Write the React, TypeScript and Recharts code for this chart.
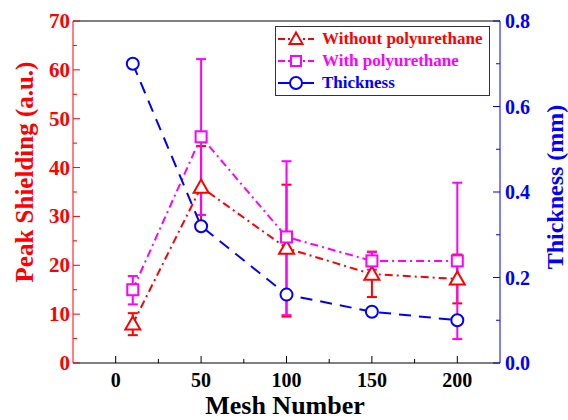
import { ErrorBar, Line, LineChart, ReferenceLine, XAxis, YAxis } from 'recharts';

const meshNumbers = [10, 50, 100, 150, 200];
const withoutPU = [8, 36, 23.5, 18.2, 17.2];
const withoutPUErr: [number, number][] = [[2.3, 2.2], [8, 8.4], [14, 13], [4.7, 4.6], [5, 5]];
const withPU = [15, 46.3, 25.8, 20.9, 20.9];
const withPUErr: [number, number][] = [[3, 2.8], [16, 15.9], [16, 15.5], [1.8, 1.8], [16, 16]];
const thickness = [0.7, 0.32, 0.16, 0.12, 0.1];

const xTicks = [0, 25, 50, 75, 100, 125, 150, 175, 200];
const leftTicks = [0, 5, 10, 15, 20, 25, 30, 35, 40, 45, 50, 55, 60, 65, 70];
const rightTicks = [0, 0.1, 0.2, 0.3, 0.4, 0.5, 0.6, 0.7, 0.8];

const data = meshNumbers.map((m, i) => ({
  mesh: m,
  without: withoutPU[i],
  withoutErr: withoutPUErr[i],
  with: withPU[i],
  withErr: withPUErr[i],
  thick: thickness[i],
}));

const FONT = '"Liberation Serif", "Times New Roman", serif';
const RED = '#ff0000';
const MAGENTA = '#ff00ff';
const BLUE = '#0000ff';

const Triangle = (props: any) => {
  const { cx, cy, stroke = RED, s = 7.5 } = props;
  if (cx == null || cy == null) return null;
  return (
    <polygon
      points={`${cx},${cy - s} ${cx - s},${cy + s * 0.75} ${cx + s},${cy + s * 0.75}`}
      fill="#fff"
      stroke={stroke}
      strokeWidth={2}
    />
  );
};

const Square = (props: any) => {
  const { cx, cy, s = 5.5 } = props;
  if (cx == null || cy == null) return null;
  return <rect x={cx - s} y={cy - s} width={s * 2} height={s * 2} fill="#fff" stroke={MAGENTA} strokeWidth={2} />;
};

const Circle = (props: any) => {
  const { cx, cy } = props;
  if (cx == null || cy == null) return null;
  return <circle cx={cx} cy={cy} r={6} fill="#fff" stroke={BLUE} strokeWidth={2} />;
};

const XTick = (props: any) => {
  const { x, y, payload } = props;
  const major = payload.value % 50 === 0;
  return (
    <g>
      <line x1={x} x2={x} y1={y} y2={y - (major ? 7 : 4)} stroke="#000" strokeWidth={1} />
      {major && (
        <text x={x} y={y + 24} textAnchor="middle" fontFamily={FONT} fontWeight="bold" fontSize={20} fill="#000">
          {payload.value}
        </text>
      )}
    </g>
  );
};

const LeftTick = (props: any) => {
  const { x, y, payload } = props;
  const major = payload.value % 10 === 0;
  return (
    <g>
      <line x1={x} x2={x + (major ? 7 : 4)} y1={y} y2={y} stroke={RED} strokeWidth={1} />
      {major && (
        <text x={x - 3} y={y + 7} textAnchor="end" fontFamily={FONT} fontWeight="bold" fontSize={21} fill={RED}>
          {payload.value}
        </text>
      )}
    </g>
  );
};

const RightTick = (props: any) => {
  const { x, y, payload } = props;
  const major = Math.round(payload.value * 10) % 2 === 0;
  return (
    <g>
      <line x1={x} x2={x - (major ? 7 : 4)} y1={y} y2={y} stroke={BLUE} strokeWidth={1} />
      {major && (
        <text x={x + 5} y={y + 7} textAnchor="start" fontFamily={FONT} fontWeight="bold" fontSize={20} fill={BLUE}>
          {payload.value.toFixed(1)}
        </text>
      )}
    </g>
  );
};

const legendItems = [
  { name: 'Without polyurethane', color: RED, dash: '7 3 2 3', marker: 'tri' },
  { name: 'With polyurethane', color: MAGENTA, dash: '7 3 2 3', marker: 'sq' },
  { name: 'Thickness', color: BLUE, dash: '', marker: 'circ' },
];

const LegendBox = () => (
  <div
    style={{
      position: 'absolute',
      left: 275,
      top: 26,
      width: 215,
      border: '1px solid #333',
      background: '#fff',
      padding: '1px 0 1px 0',
      fontFamily: FONT,
      fontWeight: 'bold',
      fontSize: 17,
      lineHeight: '22px',
      boxSizing: 'border-box',
    }}
  >
    {legendItems.map((it) => (
      <div key={it.name} style={{ display: 'flex', alignItems: 'center', color: it.color, whiteSpace: 'nowrap' }}>
        <svg width={40} height={22} style={{ marginRight: 6 }}>
          <line x1={2} x2={38} y1={11} y2={11} stroke={it.color} strokeWidth={2} strokeDasharray={it.dash} />
          {it.marker === 'tri' && <Triangle cx={20} cy={11} s={6.5} stroke={RED} />}
          {it.marker === 'sq' && <Square cx={20} cy={11} s={5} />}
          {it.marker === 'circ' && <Circle cx={20} cy={11} />}
        </svg>
        {it.name}
      </div>
    ))}
  </div>
);

export default function App() {
  return (
    <div style={{ position: 'absolute', left: 0, top: 0, width: 568, height: 420, background: '#fff' }}>
      <LineChart width={568} height={420} data={data} margin={{ top: 21, right: 0, bottom: 0, left: 0 }}>
        <XAxis
          dataKey="mesh"
          type="number"
          domain={[-25, 225]}
          ticks={xTicks}
          interval={0}
          tick={<XTick />}
          tickLine={false}
          tickSize={0}
          tickMargin={0}
          axisLine={{ stroke: '#000', strokeWidth: 1 }}
          height={57}
          label={{
            content: () => (
              <text x={285} y={414} textAnchor="middle" fontFamily={FONT} fontWeight="bold" fontSize={26} fill="#000">
                Mesh Number
              </text>
            ),
          }}
        />
        <YAxis
          yAxisId="left"
          domain={[0, 70]}
          ticks={leftTicks}
          interval={0}
          tick={<LeftTick />}
          tickLine={false}
          tickSize={0}
          tickMargin={0}
          axisLine={{ stroke: RED, strokeWidth: 1 }}
          width={73}
          label={{
            content: () => (
              <text
                x={24}
                y={172}
                transform="rotate(-90 24 172)"
                textAnchor="middle"
                dominantBaseline="central"
                fontFamily={FONT}
                fontWeight="bold"
                fontSize={25}
                fill={RED}
              >
                Peak Shielding (a.u.)
              </text>
            ),
          }}
        />
        <YAxis
          yAxisId="right"
          orientation="right"
          domain={[0, 0.8]}
          ticks={rightTicks}
          interval={0}
          tick={<RightTick />}
          tickLine={false}
          tickSize={0}
          tickMargin={0}
          axisLine={{ stroke: BLUE, strokeWidth: 1 }}
          width={68}
          label={{
            content: () => (
              <text
                x={555}
                y={187}
                transform="rotate(-90 555 187)"
                textAnchor="middle"
                dominantBaseline="central"
                fontFamily={FONT}
                fontWeight="bold"
                fontSize={24}
                fill={BLUE}
              >
                Thickness (mm)
              </text>
            ),
          }}
        />
        <ReferenceLine yAxisId="left" y={70} stroke="#000" strokeWidth={1} />
        <Line
          yAxisId="left"
          dataKey="without"
          stroke={RED}
          strokeWidth={2}
          strokeDasharray="8 4 2 4"
          dot={<Triangle />}
          activeDot={false}
          isAnimationActive={false}
        >
          <ErrorBar dataKey="withoutErr" direction="y" width={5} stroke={RED} strokeWidth={2} />
        </Line>
        <Line
          yAxisId="left"
          dataKey="with"
          stroke={MAGENTA}
          strokeWidth={2}
          strokeDasharray="8 4 2 4"
          dot={<Square />}
          activeDot={false}
          isAnimationActive={false}
        >
          <ErrorBar dataKey="withErr" direction="y" width={5} stroke={MAGENTA} strokeWidth={2} />
        </Line>
        <Line
          yAxisId="right"
          dataKey="thick"
          stroke={BLUE}
          strokeWidth={2}
          strokeDasharray="12 8"
          dot={<Circle />}
          activeDot={false}
          isAnimationActive={false}
        />
      </LineChart>
      <LegendBox />
    </div>
  );
}
